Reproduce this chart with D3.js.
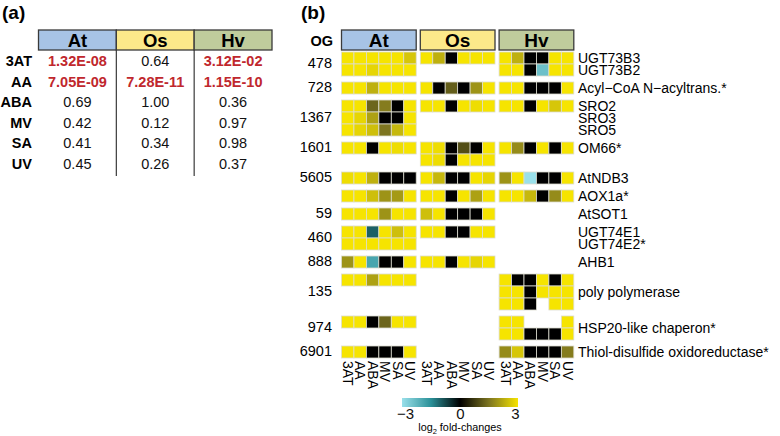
<!DOCTYPE html>
<html><head><meta charset="utf-8">
<script src="https://cdn.jsdelivr.net/npm/d3@7"></script>
<style>body{margin:0;background:#fff} svg{display:block;font-family:"Liberation Sans",Arial,sans-serif}</style>
</head><body><svg id="c" width="780" height="436"></svg>
<script>
// ---------- data ----------
const conditions = ["3AT","AA","ABA","MV","SA","UV"];
const species = ["At","Os","Hv"];
const speciesFill = ["#a7c3e5","#fce98a","#bfcc9c"];

// panel (a): p-values
const tableRows = ["3AT","AA","ABA","MV","SA","UV"];
const pAt = ["1.32E-08","7.05E-09","0.69","0.42","0.41","0.45"];
const pOs = ["0.64","7.28E-11","1.00","0.12","0.34","0.26"];
const pHv = ["3.12E-02","1.15E-10","0.36","0.97","0.98","0.37"];

// panel (b): heatmap
const ogLabels = ["478","728","1367","1601","5605","","59","460","888","135","974","6901"];
const geneLabels = [["UGT73B3","UGT73B2"],["Acyl\u2212CoA N\u2212acyltrans.*"],["SRO2","SRO3","SRO5"],["OM66*"],["AtNDB3"],["AOX1a*"],["AtSOT1"],["UGT74E1","UGT74E2*"],["AHB1"],["poly polymerase"],["HSP20-like chaperon*"],["Thiol-disulfide oxidoreductase*"]];
const labelRows = [2,1,3,1,1,1,1,2,1,3,2,1];

const atValues = [
 [[3,3,3,3,3,2.6],[3,3,2.8,3,3,3]],
 [[3,3,2.3,3,3,3]],
 [[3,3,1.3,1.6,0,3],[3,2.8,2.1,0,0,3],[3,2.8,2.5,1.5,2.4,3]],
 [[3,3,0,3,2.9,3]],
 [[2.9,3,2.3,0,0,0]],
 [[3,3,2.5,1.9,2.0,3]],
 [[3,3,3,1.9,3,3]],
 [[3,3,-1.0,3,2.5,3],[3,3,3,3,3,3]],
 [[1.9,3,-1.9,0,0,3]],
 [[3,3,2.1,3,3,3]],
 [[3,3,0,1.3,3,3]],
 [[3,3,0,0,0,3]]
];
const osValues = [
 [[3,2.3,0,3,3,3]],
 [[3,0,1.2,0,1.9,3]],
 [[3,3,0,3,2.9,3]],
 [[3,2.9,0,1.0,0,3],[3,2.9,0,3,3,3]],
 [[3,2.4,0,0,3,2.8]],
 [[3,3,0,3,2.1,3]],
 [[2.5,3,0,0,0,3]],
 [[3,3,0,0,3,3]],
 [[3,3,0,3,2.8,3]],
 [],[],[]
];
const hvValues = [
 [[3,2.3,0,0,3,3],[3,3,0,-2.4,3,3]],
 [[3,3,0,0,0,3]],
 [[3,3,0,3,2.6,3]],
 [[3,1.8,0,3,0,3]],
 [[1.9,3,-3,0,0,3]],
 [[3,3,2.4,0,1.8,3]],
 [],[],[],
 [[3,0,0,3,0,3],[3,3,0,3,3,3],[3,3,0,null,3,3]],
 [[3,3,null,null,null,3],[3,3,0,0,0,3]],
 [[1.8,2.6,0,0,0,1.6]]
];
const colorDomain = [-3,-1.5,0,1.5,3];
const colorRange = ["#9ae0ea","#2a9098","#000000","#7d7520","#f6e400"];
const legendTicks = [-3,0,3];

// ---------- drawing ----------
const svg = d3.select("#c");
const font = '"Liberation Sans",Arial,sans-serif';

// panel labels
svg.append("text").attr("x",2).attr("y",19).attr("font-size",19).attr("font-weight","bold").text("(a)");
svg.append("text").attr("x",301).attr("y",19).attr("font-size",19).attr("font-weight","bold").text("(b)");

// ---- panel (a) ----
const tx = d3.scaleBand().domain(species).range([38.5,272]);
const ty = d3.scaleBand().domain(tableRows).range([51,174]);
const ta = svg.append("g");
ta.selectAll("rect.h").data(species).join("rect")
  .attr("x",d=>tx(d)).attr("y",30).attr("width",tx.bandwidth()).attr("height",20)
  .attr("fill",(d,i)=>speciesFill[i]).attr("stroke","#3a3a3a").attr("stroke-width",1.3);
ta.selectAll("text.h").data(species).join("text")
  .attr("x",d=>tx(d)+tx.bandwidth()/2).attr("y",47).attr("text-anchor","middle")
  .attr("font-size",18.5).attr("font-weight","bold").text(d=>d);
ta.selectAll("line.v").data(species.slice(1)).join("line")
  .attr("x1",d=>tx(d)).attr("x2",d=>tx(d)).attr("y1",50).attr("y2",176)
  .attr("stroke","#3a3a3a").attr("stroke-width",1.2);
ta.selectAll("text.r").data(tableRows).join("text")
  .attr("x",32).attr("y",d=>ty(d)+ty.bandwidth()/2+5).attr("text-anchor","end")
  .attr("font-size",14.5).attr("font-weight","bold").text(d=>d);
const cols = [pAt,pOs,pHv];
cols.forEach((col,ci)=>{
  ta.selectAll(null).data(col).join("text")
    .attr("x",tx(species[ci])+tx.bandwidth()/2)
    .attr("y",(d,i)=>ty(tableRows[i])+ty.bandwidth()/2+5)
    .attr("text-anchor","middle").attr("font-size",14.5)
    .attr("font-weight",d=>(+d<0.05)?"bold":"normal")
    .attr("fill",d=>(+d<0.05)?"#c0272d":"#111")
    .text(d=>d);
});

// ---- panel (b) ----
const speciesValues = [atValues,osValues,hvValues];
const xs = d3.scaleBand().domain(species).range([341.5,573.8]).paddingInner(0.052);
const xc = d3.scaleBand().domain(conditions).range([0,xs.bandwidth()]);
const color = d3.scaleLinear().domain(colorDomain).range(colorRange).clamp(true);

// row layout in units: each row 1, gap 0.5
const groups = ogLabels.map((og,g)=>({og,g,n:d3.max(speciesValues,sv=>sv[g].length)}));
let u = 0;
groups.forEach((gr,i)=>{ gr.start=u; u += gr.n + (i<groups.length-1?0.5:0); });
const y = d3.scaleLinear().domain([0,u]).range([52,358]);
const rh = y(1)-y(0);

// headers
const hb = svg.append("g");
hb.selectAll("rect").data(species).join("rect")
  .attr("x",d=>xs(d)).attr("y",30).attr("width",xs.bandwidth()).attr("height",20)
  .attr("fill",(d,i)=>speciesFill[i]).attr("stroke","#3a3a3a").attr("stroke-width",1.3);
hb.selectAll("text").data(species).join("text")
  .attr("x",d=>xs(d)+xs.bandwidth()/2).attr("y",47).attr("text-anchor","middle")
  .attr("font-size",19).attr("font-weight","bold").text(d=>d);
svg.append("text").attr("x",333).attr("y",46).attr("text-anchor","end")
  .attr("font-size",14.5).attr("font-weight","bold").text("OG");

// cells
const cells = [];
species.forEach((sp,si)=>{
  speciesValues[si].forEach((rows,g)=>{
    rows.forEach((row,r)=>{
      row.forEach((v,c)=>{ if(v!==null) cells.push({sp,g,r,c,v}); });
    });
  });
});
svg.append("g").selectAll("rect").data(cells).join("rect")
  .attr("x",d=>xs(d.sp)+xc(conditions[d.c]))
  .attr("y",d=>y(groups[d.g].start+d.r))
  .attr("width",xc.bandwidth()).attr("height",rh)
  .attr("fill",d=>color(d.v))
  .attr("stroke","#dcdcd0").attr("stroke-width",0.8);

// OG labels
svg.append("g").selectAll("text").data(groups).join("text")
  .attr("x",332).attr("y",d=>y(d.start+labelRows[d.g]/2)+4)
  .attr("text-anchor","end").attr("font-size",14.5).text(d=>d.og);

// gene labels
const gl = [];
geneLabels.forEach((labs,g)=>{
  labs.forEach((t,k)=>{
    const pos = labs.length>1 ? k+0.5 : labelRows[g]/2;
    gl.push({t,yy:y(groups[g].start+pos)});
  });
});
svg.append("g").selectAll("text").data(gl).join("text")
  .attr("x",578).attr("y",d=>d.yy+5).attr("font-size",14).text(d=>d.t);

// column labels
const cl = [];
species.forEach(sp=>conditions.forEach(c=>cl.push({sp,c})));
svg.append("g").selectAll("text").data(cl).join("text")
  .attr("transform",d=>`translate(${xs(d.sp)+xc(d.c)+xc.bandwidth()/2-4.8},361) rotate(90)`)
  .attr("font-size",14).attr("text-anchor","start").text(d=>d.c);

// colour legend
const lg = svg.append("g");
const grad = svg.append("defs").append("linearGradient").attr("id","lgGrad");
d3.range(0,1.0001,0.05).forEach(t=>{
  grad.append("stop").attr("offset",t).attr("stop-color",color(-3+6*t));
});
const lx = d3.scaleLinear().domain([-3,3]).range([402,518]);
lg.append("rect").attr("x",lx(-3)).attr("y",398).attr("width",lx(3)-lx(-3)).attr("height",9)
  .attr("fill","url(#lgGrad)");
const lt = d3.scaleLinear().domain([-3,3]).range([405,515]);
const ax = lg.append("g").attr("transform","translate(0,405)")
  .call(d3.axisBottom(lt).tickValues(legendTicks).tickSize(0).tickFormat(d3.format("d")));
ax.select(".domain").remove();
ax.selectAll("text").attr("font-size",15).attr("font-family",font).attr("fill","#111");
const lbl = lg.append("text").attr("x",460).attr("y",431).attr("text-anchor","middle").attr("font-size",10.8);
lbl.append("tspan").text("log");
lbl.append("tspan").attr("font-size",7.5).attr("dy",3).text("2");
lbl.append("tspan").attr("dy",-3).text(" fold-changes");
</script></body></html>
